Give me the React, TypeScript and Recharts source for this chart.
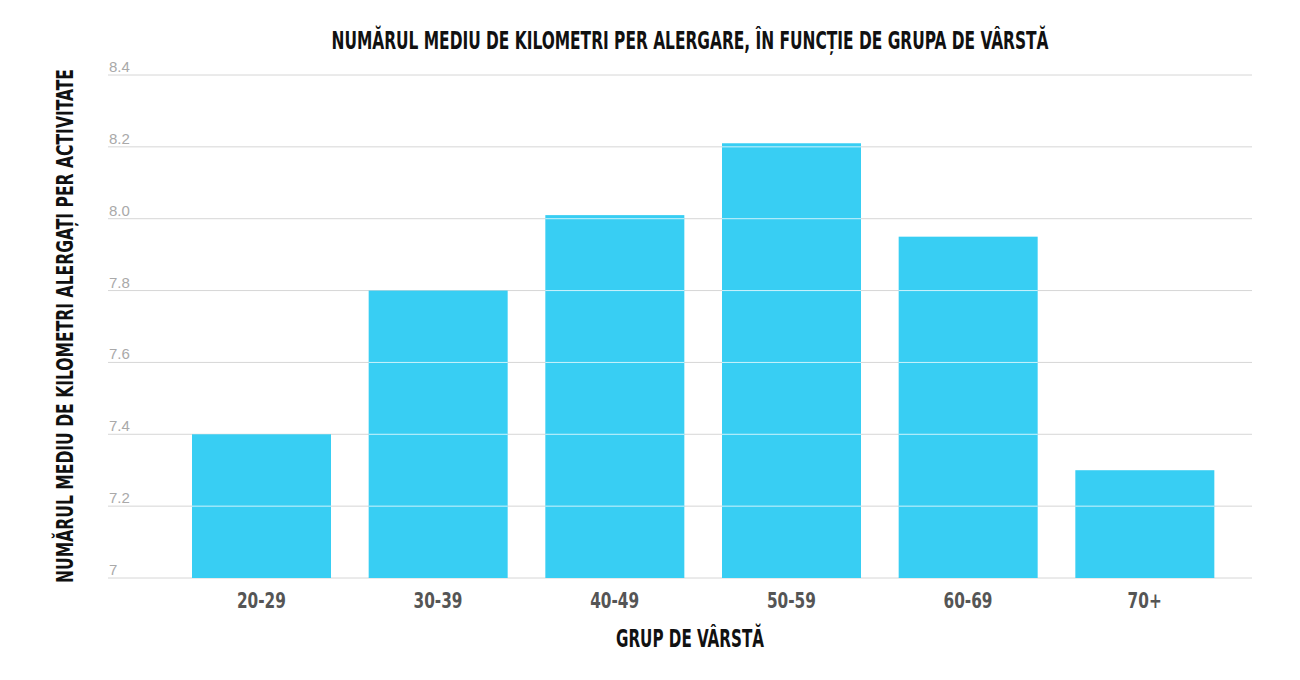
import { Bar, BarChart, CartesianGrid, XAxis, YAxis } from "recharts";

const AGE_GROUPS = ["20-29", "30-39", "40-49", "50-59", "60-69", "70+"];
const AVG_KM = [7.4, 7.8, 8.01, 8.21, 7.95, 7.3];
const Y_TICKS = [7, 7.2, 7.4, 7.6, 7.8, 8.0, 8.2, 8.4];
const Y_TICK_LABELS = ["7", "7.2", "7.4", "7.6", "7.8", "8.0", "8.2", "8.4"];

const TITLE = "NUMĂRUL MEDIU DE KILOMETRI PER ALERGARE, ÎN FUNCȚIE DE GRUPA DE VÂRSTĂ";
const X_LABEL = "GRUP DE VÂRSTĂ";
const Y_LABEL = "NUMĂRUL MEDIU DE KILOMETRI ALERGAȚI PER ACTIVITATE";

const BAR_COLOR = "#38cef3";
const GRIDLINE = "#d6d6d6";
const TICK_GRAY = "#a9a9a9";
const TICK_DARK = "#555555";
const CONDENSED =
  "'Liberation Sans Narrow', 'DejaVu Sans Condensed', 'Roboto Condensed', sans-serif";

const data = AGE_GROUPS.map((group, i) => ({ group, km: AVG_KM[i] }));

// bar with the gridlines showing through in white, like the original
function GridBar(props: any) {
  const { x, y, width, height, value } = props;
  const v = Array.isArray(value) ? value[1] : value;
  const perUnit = height / (v - Y_TICKS[0]);
  const lines = Y_TICKS.filter((t) => t > Y_TICKS[0] && t < v);
  return (
    <g>
      <rect x={x} y={y} width={width} height={height} fill={BAR_COLOR} />
      {lines.map((t) => {
        const ly = y + height - (t - Y_TICKS[0]) * perUnit;
        return (
          <line
            key={t}
            x1={x}
            x2={x + width}
            y1={ly}
            y2={ly}
            stroke="#ffffff"
            strokeOpacity={0.75}
            strokeWidth={1}
          />
        );
      })}
    </g>
  );
}

function renderYTick(props: any) {
  const { x, y, payload } = props;
  const idx = Y_TICKS.indexOf(payload.value);
  return (
    <text
      x={x + 1}
      y={y - 3}
      textAnchor="start"
      fill={TICK_GRAY}
      fontSize={15}
      fontFamily="'Liberation Sans', Arial, sans-serif"
    >
      {idx >= 0 ? Y_TICK_LABELS[idx] : payload.value}
    </text>
  );
}

function renderXTick(props: any) {
  const { x, y, payload } = props;
  return (
    <text
      transform={`translate(${x} ${y + 30}) scale(1 1.25)`}
      textAnchor="middle"
      fill={TICK_DARK}
      fontSize={17}
      fontWeight="bold"
      fontFamily={CONDENSED}
    >
      {payload.value}
    </text>
  );
}

// tall condensed heading text, stretched vertically to mimic the original face
function Heading({
  transform,
  width,
  size = 20,
  children,
}: {
  transform: string;
  width: number;
  size?: number;
  children: string;
}) {
  return (
    <text
      transform={transform}
      textAnchor="middle"
      fontSize={size}
      fontWeight="bold"
      fontFamily={CONDENSED}
      fill="#111111"
      textLength={width}
      lengthAdjust="spacingAndGlyphs"
    >
      {children}
    </text>
  );
}

export default function App() {
  return (
    <div
      style={{
        position: "absolute",
        left: 0,
        top: 0,
        width: 1300,
        height: 680,
        background: "#ffffff",
      }}
    >
      <BarChart
        width={1300}
        height={680}
        data={data}
        margin={{ top: 75, right: 48, left: 107, bottom: 72 }}
      >
        <CartesianGrid vertical={false} stroke={GRIDLINE} />
        <XAxis
          dataKey="group"
          height={30}
          axisLine={false}
          tickLine={false}
          tickSize={0}
          tickMargin={0}
          padding={{ left: 65, right: 19 }}
          tick={renderXTick}
          interval={0}
        />
        <YAxis
          width={1}
          domain={[7, 8.4]}
          ticks={Y_TICKS}
          interval={0}
          axisLine={false}
          tickLine={false}
          tickSize={0}
          tickMargin={0}
          tick={renderYTick}
        />
        <Bar
          dataKey="km"
          barSize={139}
          shape={GridBar}
          isAnimationActive={false}
        />
      </BarChart>
      <svg
        width={1300}
        height={680}
        style={{ position: "absolute", left: 0, top: 0, pointerEvents: "none" }}
      >
        <Heading transform="translate(690 49) scale(1 1.2)" width={717}>
          {TITLE}
        </Heading>
        <Heading transform="translate(690 647) scale(1 1.2)" width={148}>
          {X_LABEL}
        </Heading>
        <Heading
          transform="translate(73 326) rotate(-90) scale(1 1.4)"
          width={514}
          size={17}
        >
          {Y_LABEL}
        </Heading>
      </svg>
    </div>
  );
}
